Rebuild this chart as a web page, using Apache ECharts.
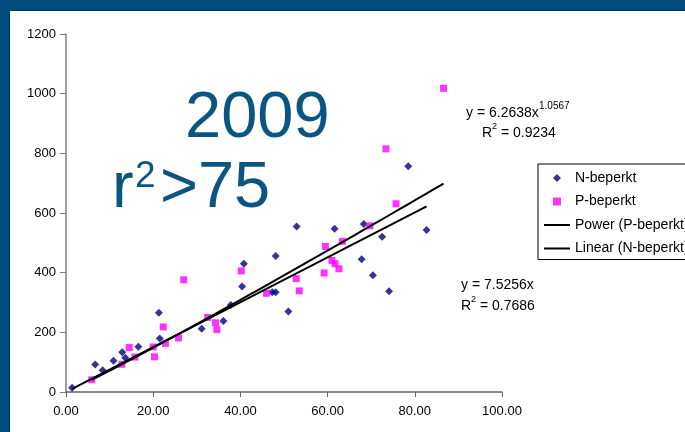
<!DOCTYPE html>
<html>
<head>
<meta charset="utf-8">
<script src="https://cdn.jsdelivr.net/npm/echarts@6/dist/echarts.min.js"></script>
<style>
html,body{margin:0;padding:0;width:685px;height:432px;overflow:hidden;background:#004b7d;}
#frame{position:absolute;left:9px;top:10px;width:676px;height:422px;background:#fff;border-left:1px solid #00365a;border-top:1px solid #00365a;box-sizing:border-box;}
#chart{position:absolute;left:0;top:0;width:676px;height:422px;}
</style>
</head>
<body>
<div id="frame"><div id="chart"></div></div>
<script>
// N-beperkt (navy diamonds)
var nX = [1.4, 6.7, 8.4, 10.9, 12.9, 13.6, 16.6, 21.3, 21.5, 31.1, 36.1, 37.8, 40.4, 40.8, 47.3, 48.1, 48.1, 51.0, 52.9, 61.6, 67.8, 68.3, 70.4, 72.5, 74.1, 78.5, 82.7];
var nY = [14, 92, 73, 105, 133, 115, 152, 266, 179, 212, 238, 292, 354, 430, 334, 334, 456, 270, 555, 547, 445, 563, 391, 520, 338, 757, 543];
// P-beperkt (magenta squares)
var pX = [5.9, 12.8, 14.5, 15.8, 20.0, 20.3, 22.3, 22.8, 25.8, 27.0, 32.5, 34.3, 34.6, 40.2, 46.0, 52.8, 53.5, 59.2, 59.5, 61.0, 61.7, 62.6, 63.4, 69.7, 73.4, 75.7, 86.6];
var pY = [41, 93, 149, 117, 151, 118, 218, 163, 181, 376, 250, 232, 209, 406, 331, 380, 339, 399, 488, 441, 430, 413, 505, 557, 815, 631, 1018];
// trendline coefficients shown on the chart
var powerCoef = [6.2638, 1.0567];   // y = a * x^b (P-beperkt)
var linearCoef = [7.5256];          // y = a * x   (N-beperkt)
var xTicks = [0, 20, 40, 60, 80, 100];
var yTicks = [0, 200, 400, 600, 800, 1000, 1200];
var seriesNames = ['N-beperkt', 'P-beperkt', 'Power (P-beperkt)', 'Linear (N-beperkt)'];

function pairs(xs, ys){ return xs.map(function(x,i){ return [x, ys[i]]; }); }
var nMin = Math.min.apply(null, nX), nMax = Math.max.apply(null, nX);
var pMin = Math.min.apply(null, pX), pMax = Math.max.apply(null, pX);
var linearLine = [nMin, nMax].map(function(x){ return [x, linearCoef[0]*x]; });
var powerLine = [];
for (var k = 0; k <= 40; k++) {
  var x = pMin + (pMax - pMin) * k / 40;
  powerLine.push([x, powerCoef[0] * Math.pow(x, powerCoef[1])]);
}

var chart = echarts.init(document.getElementById('chart'), null, {renderer:'canvas'});
var F = 'Liberation Sans, Arial, sans-serif';
var blue = '#0a5582';
function txt(x, y, s, size, color){
  return {type:'text', x:x, y:y, silent:true, style:{text:s, fontSize:size, fontFamily:F, fill:color||'#000', verticalAlign:'middle', align:'left'}};
}
var lineIcon = 'path://M0,0 H26 V2 H0 Z';
chart.setOption({
  animation:false,
  backgroundColor:'#fff',
  grid:{left:56, top:23, right:184, bottom:41, containLabel:false},
  xAxis:{type:'value', min:xTicks[0], max:xTicks[xTicks.length-1], interval:20,
    axisLine:{show:true, onZero:false, lineStyle:{color:'#666', width:1.5}},
    axisTick:{show:true, length:5, lineStyle:{color:'#666'}},
    splitLine:{show:false},
    axisLabel:{margin:13, fontSize:13, fontFamily:F, color:'#000', formatter:function(v){return v.toFixed(2);}}},
  yAxis:{type:'value', min:yTicks[0], max:yTicks[yTicks.length-1], interval:200,
    axisLine:{show:true, onZero:false, lineStyle:{color:'#808080', width:1.5}},
    axisTick:{show:true, length:6, lineStyle:{color:'#808080'}},
    splitLine:{show:false},
    axisLabel:{margin:10, fontSize:13, fontFamily:F, color:'#000', formatter:function(v){return String(v);}}},
  legend:{orient:'vertical', left:528, top:153, itemWidth:26, itemHeight:8, itemGap:9.5,
    symbolKeepAspect:true,
    padding:[7, 200, 4, 6], borderColor:'#000', borderWidth:1, backgroundColor:'#fff',
    textStyle:{fontSize:14, fontFamily:F, color:'#000'},
    data:[{name:seriesNames[0], icon:'path://M4,0 L8,4 L4,8 L0,4 Z'}, {name:seriesNames[1], icon:'path://M0,0 H7 V7 H0 Z'},
      {name:seriesNames[2], icon:lineIcon}, {name:seriesNames[3], icon:lineIcon}]},
  series:[
    {name:seriesNames[0], type:'scatter', symbol:'diamond', symbolSize:8, itemStyle:{color:'#000080'}, data:pairs(nX, nY), z:2},
    {name:seriesNames[1], type:'scatter', symbol:'rect', symbolSize:7, itemStyle:{color:'#ff00ff'}, data:pairs(pX, pY), z:2},
    {name:seriesNames[2], type:'line', symbol:'none', lineStyle:{color:'#000', width:2}, itemStyle:{color:'#000'}, data:powerLine, z:3},
    {name:seriesNames[3], type:'line', symbol:'none', lineStyle:{color:'#000', width:2}, itemStyle:{color:'#000'}, data:linearLine, z:3}
  ],
  graphic:[
    txt(175, 108, '2009', 65, blue),
    txt(102, 178, 'r', 65, blue),
    txt(125, 166, '2', 37, blue),
    txt(150, 178, '>75', 65, blue),
    txt(456, 102, 'y = 6.2638x', 14),
    txt(529, 95, '1.0567', 10),
    txt(472, 122, 'R', 14),
    txt(482, 116, '2', 9),
    txt(487, 122, ' = 0.9234', 14),
    txt(451, 274, 'y = 7.5256x', 14),
    txt(451, 295, 'R', 14),
    txt(461, 289, '2', 9),
    txt(466, 295, ' = 0.7686', 14)
  ]
});
</script>
</body>
</html>
